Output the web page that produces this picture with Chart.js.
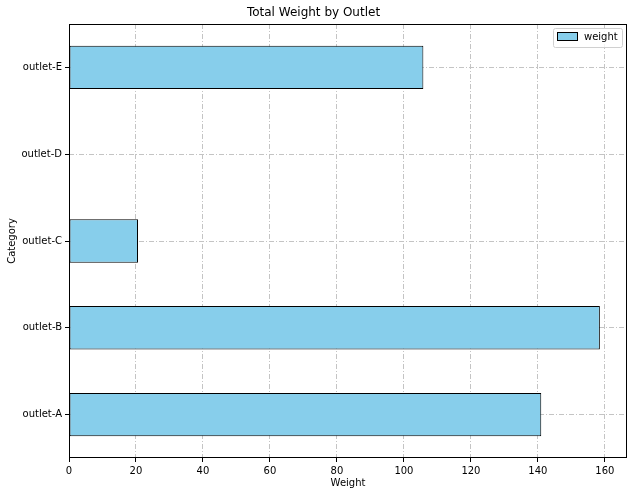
<!DOCTYPE html>
<html><head><meta charset="utf-8">
<script src="https://cdn.jsdelivr.net/npm/chart.js@4"></script>
<style>html,body{margin:0;padding:0;background:#fff}#wrap{width:633px;height:496px}</style>
</head><body><div id="wrap"><canvas id="c" width="633" height="496"></canvas></div>
<script>
const categories = ["outlet-A", "outlet-B", "outlet-C", "outlet-D", "outlet-E"];
const weightValues = [141, 158.5, 20.6, 0, 105.8];
const xTicks = [0, 20, 40, 60, 80, 100, 120, 140, 160];

const FONT = "'DejaVu Sans', sans-serif";
const gridDash = [5, 2, 1, 2];
const GRID = '#c4c4c4';

const framePlugin = {
  id: 'frame',
  afterDraw(chart) {
    const {ctx, chartArea: a} = chart;
    ctx.save();
    ctx.strokeStyle = '#000';
    ctx.lineWidth = 1;
    ctx.strokeRect(Math.round(a.left) + 0.5, Math.round(a.top) + 0.5, Math.round(a.right - a.left) - 1, Math.round(a.bottom - a.top) - 1);
    // legend
    const ds = chart.data.datasets[0];
    const x = a.right - 74, y = a.top + 4, w = 69, h = 19;
    ctx.fillStyle = 'rgba(255,255,255,0.8)';
    ctx.strokeStyle = '#d0d0d0';
    ctx.beginPath();
    if (ctx.roundRect) ctx.roundRect(x + 0.5, y + 0.5, w, h, 2); else ctx.rect(x + 0.5, y + 0.5, w, h);
    ctx.fill();
    ctx.stroke();
    ctx.fillStyle = ds.backgroundColor;
    ctx.fillRect(x + 4, y + 5, 20, 7);
    ctx.strokeStyle = ds.borderColor;
    ctx.strokeRect(x + 4.5, y + 4.5, 20, 8);
    ctx.fillStyle = '#000';
    ctx.font = "10px 'DejaVu Sans', sans-serif";
    ctx.textBaseline = 'middle';
    ctx.textAlign = 'left';
    ctx.fillText(ds.label, x + 31, y + 9.5);
    ctx.restore();
  }
};

new Chart(document.getElementById('c'), {
  type: 'bar',
  data: {
    labels: categories,
    datasets: [{
      label: 'weight',
      data: weightValues,
      backgroundColor: '#87CEEB',
      borderColor: '#000000',
      borderWidth: 1,
      borderSkipped: false,
      barPercentage: 0.5,
      categoryPercentage: 1.0
    }]
  },
  options: {
    indexAxis: 'y',
    responsive: false,
    animation: false,
    devicePixelRatio: 1,
    layout: { padding: { left: 0, right: 6, top: 0, bottom: 0 } },
    plugins: {
      title: {
        display: true,
        text: 'Total Weight by Outlet',
        color: '#000',
        font: { family: FONT, size: 12, weight: 'normal' },
        padding: { top: 6, bottom: 3.6 }
      },
      legend: { display: false },
      tooltip: { enabled: false }
    },
    scales: {
      x: {
        type: 'linear',
        min: 0,
        max: 166.6,
        z: 1,
        afterFit(scale) { scale.height = 38; },
        afterBuildTicks(scale) { scale.ticks = xTicks.map(v => ({ value: v })); },
        ticks: { color: '#000', font: { family: FONT, size: 10 }, padding: 3, maxRotation: 0 },
        grid: { color: GRID, lineWidth: 1, tickColor: '#000', tickLength: 4, drawTicks: true },
        border: { display: false, dash: gridDash },
        title: { display: true, text: 'Weight', color: '#000', font: { family: FONT, size: 10 }, padding: { top: 0, bottom: 7 } }
      },
      y: {
        type: 'category',
        reverse: true,
        offset: true,
        z: 1,
        afterFit(scale) { scale.width = 69; },
        ticks: { color: '#000', font: { family: FONT, size: 10 }, padding: 3 },
        grid: { color: GRID, lineWidth: 1, tickColor: '#000', tickLength: 4, offset: false, drawTicks: true },
        border: { display: false, dash: gridDash },
        title: { display: true, text: 'Category', color: '#000', font: { family: FONT, size: 10 }, padding: { top: 6, bottom: 0 } }
      }
    }
  },
  plugins: [framePlugin]
});
</script></body></html>
